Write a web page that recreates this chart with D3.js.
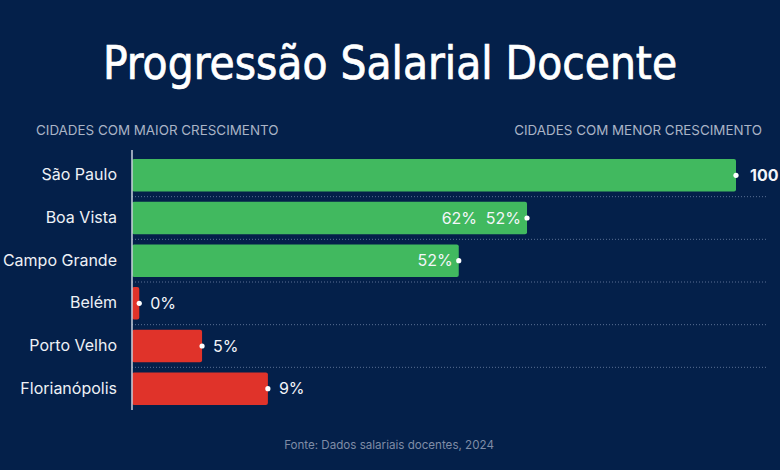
<!DOCTYPE html>
<html>
<head>
<meta charset="utf-8">
<script src="https://cdn.jsdelivr.net/npm/d3@7"></script>
<style>
  body { margin: 0; background: #04204a; }
  svg { display: block; }
</style>
</head>
<body>
<svg id="chart" width="780" height="470"></svg>
<script>
const cities = ["São Paulo", "Boa Vista", "Campo Grande", "Belém", "Porto Velho", "Florianópolis"];
const values = [100, 65.4, 54.1, 1.2, 11.6, 22.5];
const groups = ["alto", "alto", "alto", "baixo", "baixo", "baixo"];
const valueLabels = ["100", "52%", "52%", "0%", "5%", "9%"];
const extraLabels = ["", "62%", "", "", "", ""];

const data = cities.map((c, i) => ({
    city: c, value: values[i], group: groups[i], label: valueLabels[i], extra: extraLabels[i]
}));

let svg = d3.select("#chart");
let margin = {top: 154, right: 44, bottom: 60, left: 132};

svg.append("rect")
    .attr("width", 780)
    .attr("height", 470)
    .attr("fill", "#04204a");

svg.append("text")
    .attr("x", 390)
    .attr("y", 79)
    .attr("text-anchor", "middle")
    .attr("fill", "#ffffff")
    .attr("stroke", "#ffffff")
    .attr("stroke-width", 0.7)
    .style("font-family", "'DejaVu Sans Condensed', 'DejaVu Sans', sans-serif")
    .style("font-size", "45.5px")
    .text("Progressão Salarial Docente");

svg.append("text")
    .attr("x", 36)
    .attr("y", 135)
    .attr("fill", "#aab4c6")
    .style("font-family", "Inter, sans-serif")
    .style("font-size", "13.4px")
    .text("CIDADES COM MAIOR CRESCIMENTO");

svg.append("text")
    .attr("x", 762)
    .attr("y", 135)
    .attr("text-anchor", "end")
    .attr("fill", "#aab4c6")
    .style("font-family", "Inter, sans-serif")
    .style("font-size", "13.4px")
    .text("CIDADES COM MENOR CRESCIMENTO");

let g = svg.append("g")
    .attr("transform", `translate(${margin.left}, ${margin.top})`);

let x = d3.scaleLinear()
    .domain([0, 100])
    .range([0, 604]);

let y = d3.scaleBand()
    .domain(cities)
    .range([0, 256])
    .paddingInner(0.24)
    .paddingOuter(0.12);

let color = d3.scaleOrdinal()
    .domain(["alto", "baixo"])
    .range(["#41b95f", "#e0332a"]);

// dotted separators between rows
g.selectAll("line.grid")
    .data(cities.slice(1))
    .join("line")
    .attr("class", "grid")
    .attr("x1", 0)
    .attr("x2", 636)
    .attr("y1", d => y(d) - y.step() * y.paddingInner() / 2)
    .attr("y2", d => y(d) - y.step() * y.paddingInner() / 2)
    .attr("stroke", "#5a6f93")
    .attr("stroke-width", 1)
    .attr("stroke-dasharray", "1,2");

g.selectAll("rect.bar")
    .data(data)
    .join("rect")
    .attr("class", "bar")
    .attr("x", 0)
    .attr("y", d => y(d.city))
    .attr("width", d => x(d.value))
    .attr("height", y.bandwidth())
    .attr("rx", 2)
    .attr("fill", d => color(d.group));

let yAxis = g.append("g")
    .call(d3.axisLeft(y).tickSize(0).tickPadding(15));
yAxis.select(".domain")
    .attr("stroke", "#c9d1dd")
    .attr("stroke-width", 1.5)
    .attr("d", "M0,-4V256");
yAxis.selectAll("text")
    .attr("fill", "#eef1f6")
    .style("font-family", "Inter, sans-serif")
    .style("font-size", "16px");

g.selectAll("circle.dot")
    .data(data)
    .join("circle")
    .attr("class", "dot")
    .attr("cx", d => x(d.value))
    .attr("cy", d => y(d.city) + y.bandwidth() / 2)
    .attr("r", 2.6)
    .attr("fill", "#ffffff");

// value labels: inside the bar for the long green ones, outside otherwise
g.selectAll("text.val")
    .data(data)
    .join("text")
    .attr("class", "val")
    .attr("x", d => d.group == "alto" && d.value < 100 ? x(d.value) - 6 : x(d.value) + (d.value == 100 ? 14 : 11))
    .attr("y", d => y(d.city) + y.bandwidth() / 2)
    .attr("dy", "0.36em")
    .attr("text-anchor", d => d.group == "alto" && d.value < 100 ? "end" : "start")
    .attr("fill", "#f4f6fa")
    .style("font-family", "Inter, sans-serif")
    .style("font-size", "16px")
    .style("font-weight", d => d.value == 100 ? "700" : "400")
    .text(d => d.label);

g.selectAll("text.extra")
    .data(data.filter(d => d.extra))
    .join("text")
    .attr("class", "extra")
    .attr("x", d => x(d.value) - 50)
    .attr("y", d => y(d.city) + y.bandwidth() / 2)
    .attr("dy", "0.36em")
    .attr("text-anchor", "end")
    .attr("fill", "#f4f6fa")
    .style("font-family", "Inter, sans-serif")
    .style("font-size", "16px")
    .text(d => d.extra);

svg.append("text")
    .attr("x", 389)
    .attr("y", 449)
    .attr("text-anchor", "middle")
    .attr("fill", "#7f8ca6")
    .style("font-family", "Inter, sans-serif")
    .style("font-size", "11.6px")
    .text("Fonte: Dados salariais docentes, 2024");
</script>
</body>
</html>
